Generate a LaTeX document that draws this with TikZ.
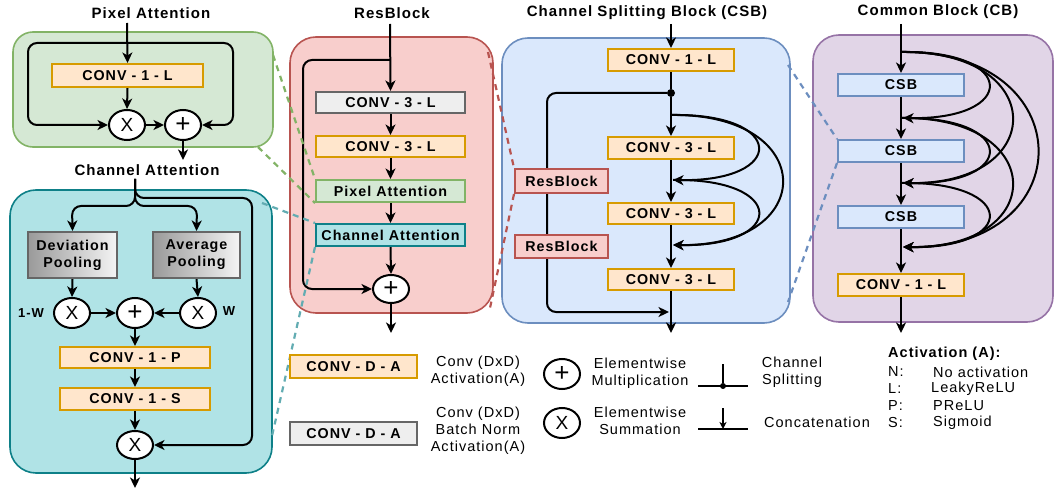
\documentclass[tikz,border=0pt]{standalone}
\usepackage{fontspec}
\setmainfont{Liberation Sans}[LetterSpace=7]
\usetikzlibrary{arrows.meta,shapes.geometric,calc}
\definecolor{orfill}{HTML}{FFE6CC}
\definecolor{ordraw}{HTML}{D79B00}
\definecolor{gyfill}{HTML}{EEEEEE}
\definecolor{gydraw}{HTML}{666666}
\definecolor{pafill}{HTML}{D5E8D4}
\definecolor{padraw}{HTML}{82B366}
\definecolor{cafill}{HTML}{B0E3E6}
\definecolor{cadraw}{HTML}{0E8088}
\definecolor{rbfill}{HTML}{F8CECC}
\definecolor{rbdraw}{HTML}{B85450}
\definecolor{csfill}{HTML}{DAE8FC}
\definecolor{csdraw}{HTML}{6C8EBF}
\definecolor{cbfill}{HTML}{E1D5E7}
\definecolor{cbdraw}{HTML}{9673A6}
\definecolor{pooldark}{HTML}{9A9A9A}
\definecolor{poollight}{HTML}{F4F4F4}
\pgfdeclarelayer{panels}
\pgfdeclarelayer{lines}
\pgfsetlayers{panels,lines,main}
\tikzset{
  arr/.style={line width=2pt,-{Stealth[length=10.5pt,width=10pt,inset=3pt]}},
  ln/.style={line width=2pt},
  panel/.style={rectangle,rounded corners=20pt,line width=1.6pt,inner sep=0pt},
  box/.style={rectangle,draw,line width=2pt,inner sep=0pt,font=\fontsize{14.3}{16}\selectfont\bfseries},
  obox/.style={box,fill=orfill,draw=ordraw},
  gbox/.style={box,fill=gyfill,draw=gydraw},
  pbox/.style={box,fill=pafill,draw=padraw},
  cbox/.style={box,fill=cafill,draw=cadraw},
  rbox/.style={box,fill=rbfill,draw=rbdraw},
  sbox/.style={box,fill=csfill,draw=csdraw},
  poolbox/.style={box,left color=pooldark,right color=poollight,draw=gydraw,align=center,font=\fontsize{14.3}{17}\selectfont\bfseries},
  opx/.style={ellipse,draw,fill=white,line width=2pt,minimum width=36pt,minimum height=30pt,inner sep=0pt,font=\fontsize{19}{19}\selectfont},
  opp/.style={ellipse,draw,fill=white,line width=2pt,minimum width=36pt,minimum height=30pt,inner sep=0pt,font=\fontsize{26}{26}\selectfont},
  title/.style={font=\fontsize{15}{17}\selectfont\bfseries,inner sep=0pt},
  lgtext/.style={font=\fontsize{14.5}{17}\selectfont,align=center,inner sep=0pt},
  lgleft/.style={font=\fontsize{14.5}{17}\selectfont,anchor=west,inner sep=0pt},
  dsh/.style={line width=2.2pt,dash pattern=on 6pt off 5pt},
}
\begin{document}
\begin{tikzpicture}[x=1pt,y=-1pt]
\useasboundingbox (0,0) rectangle (1055,489);

% ---------- panels ----------
\begin{pgfonlayer}{panels}
\node[panel,fill=pafill,draw=padraw,minimum width=260pt,minimum height=115pt] (papanel) at (143,89.5) {};
\node[panel,fill=cafill,draw=cadraw,minimum width=262pt,minimum height=283pt,rounded corners=26pt] (capanel) at (141,331.5) {};
\node[panel,fill=rbfill,draw=rbdraw,minimum width=203pt,minimum height=276pt,rounded corners=26pt] (rbpanel) at (391.5,175) {};
\node[panel,fill=csfill,draw=csdraw,minimum width=288pt,minimum height=285pt,rounded corners=26pt] (cspanel) at (646,180.5) {};
\node[panel,fill=cbfill,draw=cbdraw,minimum width=240pt,minimum height=287pt,rounded corners=26pt] (cbpanel) at (933,178.5) {};
\end{pgfonlayer}

% ---------- titles ----------
\node[title] (patitle) at (151,13) {Pixel Attention};
\node[title] (catitle) at (147,170) {Channel Attention};
\node[title] (rbtitle) at (392,13) {ResBlock};
\node[title] (cstitle) at (647,13) {Channel Splitting Block (CSB)};
\node[title] (cbtitle) at (938,12) {Common Block (CB)};

% ---------- Pixel Attention ----------
\node[obox,minimum width=151pt,minimum height=23pt] (paconv) at (127.5,75.5) {CONV - 1 - L};
\node[opx] (pax) at (127,125) {X};
\node[opp] (paplus) at (183,125) {+};
\coordinate (pain) at (127,23);
\coordinate (pasplit) at (127,43);
\coordinate (paout) at (183,160);

% ---------- Channel Attention ----------
\node[poolbox,minimum width=89pt,minimum height=46pt] (cadev) at (72.5,255) {Deviation\\Pooling};
\node[poolbox,minimum width=87pt,minimum height=46pt] (caavg) at (196.5,255) {Average\\Pooling};
\node[opx] (cax1) at (72,313) {X};
\node[opp] (caplus) at (135,313) {+};
\node[opx] (cax2) at (198,313) {X};
\node[font=\fontsize{13}{15}\selectfont\bfseries,inner sep=0pt] (lw1) at (31,313) {1-W};
\node[font=\fontsize{13}{15}\selectfont\bfseries,inner sep=0pt] (lw2) at (229,311) {W};
\node[obox,minimum width=150pt,minimum height=21pt] (caconvp) at (135,357.5) {CONV - 1 - P};
\node[obox,minimum width=150pt,minimum height=22pt] (caconvs) at (135,399) {CONV - 1 - S};
\node[opx,minimum height=28pt] (cax3) at (135,445) {X};
\coordinate (cain) at (135,179);
\coordinate (caout) at (135,488);

% ---------- ResBlock ----------
\node[gbox,minimum width=149pt,minimum height=21pt] (rbconv1) at (390.5,102.5) {CONV - 3 - L};
\node[obox,minimum width=149pt,minimum height=21pt] (rbconv2) at (390.5,146.5) {CONV - 3 - L};
\node[pbox,minimum width=149pt,minimum height=22pt] (rbpa) at (390.5,191) {Pixel Attention};
\node[cbox,minimum width=149pt,minimum height=22pt] (rbca) at (390.5,235) {Channel Attention};
\node[opp,minimum height=28pt] (rbplus) at (391,289) {+};
\coordinate (rbin) at (390,24);
\coordinate (rbsplit) at (390,60);
\coordinate (rbout) at (391,333);

% ---------- CSB ----------
\node[obox,minimum width=126pt,minimum height=22pt] (csconv1) at (671,60) {CONV - 1 - L};
\node[circle,fill=black,inner sep=0pt,minimum size=8pt] (csdot) at (671,93) {};
\node[obox,minimum width=126pt,minimum height=22pt] (csc1) at (671,148) {CONV - 3 - L};
\node[obox,minimum width=126pt,minimum height=21pt] (csc2) at (671,213.5) {CONV - 3 - L};
\node[obox,minimum width=126pt,minimum height=21pt] (csc3) at (671,279.5) {CONV - 3 - L};
\node[rbox,minimum width=93pt,minimum height=24pt] (csrb1) at (561.5,181) {ResBlock};
\node[rbox,minimum width=93pt,minimum height=23pt] (csrb2) at (561.5,246.5) {ResBlock};
\coordinate (csin) at (671,24);
\coordinate (css0) at (671,115);
\coordinate (csj1) at (673,180);
\coordinate (csj2) at (673,245);
\coordinate (csjo) at (669,312);
\coordinate (csout) at (671,333);

% ---------- CB ----------
\node[sbox,minimum width=126pt,minimum height=22pt] (cbs1) at (901,85) {CSB};
\node[sbox,minimum width=126pt,minimum height=22pt] (cbs2) at (901,151) {CSB};
\node[sbox,minimum width=126pt,minimum height=22pt] (cbs3) at (901,217) {CSB};
\node[obox,minimum width=126pt,minimum height=22pt] (cbconv) at (901,285) {CONV - 1 - L};
\coordinate (cbin) at (901,24);
\coordinate (cbs0) at (901,52);
\coordinate (cbj1) at (903,118);
\coordinate (cbj2) at (903,183);
\coordinate (cbj3) at (903,247);
\coordinate (cbq1) at (901,118);
\coordinate (cbq2) at (901,183);
\coordinate (cbout) at (901,333);

% ---------- dashed link ends ----------
\coordinate (g1) at (273,55);
\coordinate (g2) at (258,147);
\coordinate (c1) at (262,203);
\coordinate (c2) at (272,436);
\coordinate (r1) at (488,52);
\coordinate (r2) at (490,308);
\coordinate (b1) at (788,65);
\coordinate (b2) at (788,302);

% ---------- legend ----------
\node[obox,minimum width=127pt,minimum height=23pt] (lgconv1) at (353.5,366.5) {CONV - D - A};
\node[gbox,minimum width=127pt,minimum height=23pt] (lgconv2) at (353.5,433.5) {CONV - D - A};
\node[lgtext] (lgt1) at (478,371) {Conv (DxD)\\Activation(A)};
\node[lgtext] (lgt2) at (478,431) {Conv (DxD)\\Batch Norm\\Activation(A)};
\node[opp] (lgplus) at (562,374) {+};
\node[opx] (lgx) at (562,423) {X};
\node[lgtext] (lgt3) at (640,373) {Elementwise\\Multiplication};
\node[lgtext] (lgt4) at (640,421) {Elementwise\\Summation};
\coordinate (spl) at (698,386);
\coordinate (spr) at (748,386);
\coordinate (spt) at (723,364);
\node[circle,fill=black,inner sep=0pt,minimum size=6pt] (spdot) at (723,386) {};
\coordinate (ccl) at (698,429);
\coordinate (ccr) at (748,429);
\coordinate (cct) at (723,408);
\coordinate (ccb) at (723,429);
\node[lgtext] (lgt5) at (792,372) {Channel\\Splitting};
\node[lgtext] (lgt6) at (817,422) {Concatenation};
\node[lgleft,font=\fontsize{14.5}{17}\selectfont\bfseries] (acth) at (888,354) {Activation (A):};
\node[lgleft] (an) at (888,372) {N:};
\node[lgleft] (al) at (888,389) {L:};
\node[lgleft] (ap) at (888,406) {P:};
\node[lgleft] (as) at (888,423) {S:};
\node[lgleft] (ann) at (933,372) {No activation};
\node[lgleft] (aln) at (931,389) {LeakyReLU};
\node[lgleft] (apn) at (933,406) {PReLU};
\node[lgleft] (asn) at (933,423) {Sigmoid};

% ---------- connectors ----------
\begin{pgfonlayer}{lines}
% Pixel attention
\draw[arr] (pain) -- (paconv.north);
\draw[arr] (paconv.south) -- (pax.north);
\draw[arr,rounded corners=9pt] (pasplit) -| (28,125) -- (pax.west);
\draw[arr,rounded corners=9pt] (pasplit) -| (233,125) -- (paplus.east);
\draw[arr] (pax.east) -- (paplus.west);
\draw[arr] (paplus.south) -- (paout);
% Channel attention
\draw[arr,rounded corners=9pt] (cain) |- (72,206) -- (cadev.north);
\draw[arr,rounded corners=9pt] (cain) |- (197,206) -- (caavg.north);
\draw[arr,rounded corners=9pt] (cain) |- (252,198) |- (cax3.east);
\draw[arr] (cadev.south) -- (cax1.north);
\draw[arr] (caavg.south) -- (cax2.north);
\draw[arr] (cax1.east) -- (caplus.west);
\draw[arr] (cax2.west) -- (caplus.east);
\draw[arr] (caplus.south) -- (caconvp.north);
\draw[arr] (caconvp.south) -- (caconvs.north);
\draw[arr] (caconvs.south) -- (cax3.north);
\draw[arr] (cax3.south) -- (caout);
% ResBlock
\draw[arr] (rbin) -- (rbconv1.north);
\draw[arr] (rbconv1.south) -- (rbconv2.north);
\draw[arr] (rbconv2.south) -- (rbpa.north);
\draw[arr] (rbpa.south) -- (rbca.north);
\draw[arr] (rbca.south) -- (rbplus.north);
\draw[arr,rounded corners=9pt] (rbsplit) -| (303,289) -- (rbplus.west);
\draw[arr] (rbplus.south) -- (rbout);
% CSB
\draw[arr] (csin) -- (csconv1.north);
\draw[ln] (csconv1.south) -- (csdot);
\draw[arr] (csdot) -- (csc1.north);
\draw[arr] (csc1.south) -- (csc2.north);
\draw[arr] (csc2.south) -- (csc3.north);
\draw[arr] (csc3.south) -- (csout);
\draw[arr,rounded corners=9pt] (csdot) -| (547,312) -- (csjo);
\draw[arr] (css0) .. controls (787,113) and (787,182) .. (csj1);
\draw[arr] (css0) .. controls (819,113) and (819,247) .. (csj2);
\draw[arr] (csj1) .. controls (787,178) and (787,247) .. (csj2);
% CB
\draw[arr] (cbin) -- (cbs1.north);
\draw[arr] (cbs1.south) -- (cbs2.north);
\draw[arr] (cbs2.south) -- (cbs3.north);
\draw[arr] (cbs3.south) -- (cbconv.north);
\draw[arr] (cbconv.south) -- (cbout);
\draw[arr] (cbs0) .. controls (1018,50) and (1018,120) .. (cbj1);
\draw[arr] (cbs0) .. controls (1049,50) and (1049,185) .. (cbj2);
\draw[arr] (cbs0) .. controls (1083,50) and (1083,249) .. (cbj3);
\draw[arr] (cbq1) .. controls (1018,116) and (1018,185) .. (cbj2);
\draw[arr] (cbq1) .. controls (1049,116) and (1049,249) .. (cbj3);
\draw[arr] (cbq2) .. controls (1018,181) and (1018,249) .. (cbj3);
% dashed links
\draw[dsh,draw=padraw] (g1) -- (rbpa.north west);
\draw[dsh,draw=padraw] (g2) -- (rbpa.south west);
\draw[dsh,draw=cadraw!65] (c1) -- (rbca.north west);
\draw[dsh,draw=cadraw!65] (rbca.south west) -- (c2);
\draw[dsh,draw=rbdraw] (r1) -- (csrb1.north west);
\draw[dsh,draw=rbdraw] (csrb1.south west) -- (r2);
\draw[dsh,draw=csdraw] (b1) -- (cbs2.north west);
\draw[dsh,draw=csdraw] (cbs2.south west) -- (b2);
% legend symbols
\draw[line width=1.4pt] (spl) -- (spr);
\draw[line width=1.4pt] (spt) -- (spdot);
\draw[line width=1.4pt] (ccl) -- (ccr);
\draw[line width=1.4pt,-{Stealth[length=7pt,width=7pt,inset=2pt]}] (cct) -- (ccb);
\end{pgfonlayer}
\end{tikzpicture}
\end{document}
